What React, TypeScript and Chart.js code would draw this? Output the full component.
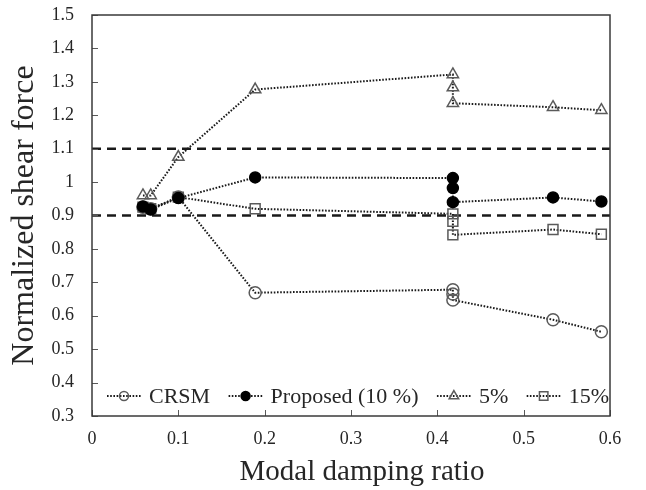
import React, { useEffect, useRef } from 'react';
import { Chart, registerables } from 'chart.js';

Chart.register(...registerables);

// ---- data ----
const dampingRatio = [0.059, 0.068, 0.1, 0.189, 0.418, 0.418, 0.418, 0.534, 0.59];
const crsm = [0.925, 0.92, 0.955, 0.669, 0.678, 0.665, 0.647, 0.588, 0.552];
const proposed10 = [0.927, 0.918, 0.952, 1.014, 1.012, 0.982, 0.94, 0.954, 0.942];
const damping5 = [0.96, 0.96, 1.075, 1.277, 1.322, 1.283, 1.236, 1.224, 1.215];
const damping15 = [0.925, 0.92, 0.955, 0.92, 0.905, 0.883, 0.842, 0.858, 0.844];
const thresholds = [1.1, 0.9];
const seriesNames = ['CRSM', 'Proposed (10 %)', '5%', '15%'];
const xTickValues = [0, 0.1, 0.2, 0.3, 0.4, 0.5, 0.6];
const xTickLabels = ['0', '0.1', '0.2', '0.3', '0.4', '0.5', '0.6'];
const yTickValues = [0.3, 0.4, 0.5, 0.6, 0.7, 0.8, 0.9, 1.0, 1.1, 1.2, 1.3, 1.4, 1.5];
const yTickLabels = ['0.3', '0.4', '0.5', '0.6', '0.7', '0.8', '0.9', '1', '1.1', '1.2', '1.3', '1.4', '1.5'];
const xTitle = 'Modal damping ratio';
const yTitle = 'Normalized shear force';

const FONT = '"Liberation Serif", "Times New Roman", serif';
const LINE = '#1a1a1a';
const MARK = '#5a5a5a';
const TEXT = '#262626';

type MarkerDef = { style: string; radius: number; fill: string; stroke: string; legendRadius: number };
const markers: MarkerDef[] = [
  { style: 'circle', radius: 6, fill: 'rgba(0,0,0,0)', stroke: MARK, legendRadius: 4.5 },
  { style: 'circle', radius: 5.5, fill: '#000000', stroke: '#000000', legendRadius: 4.5 },
  { style: 'triangle', radius: 6.5, fill: 'rgba(0,0,0,0)', stroke: MARK, legendRadius: 5.5 },
  { style: 'rect', radius: 7, fill: 'rgba(0,0,0,0)', stroke: MARK, legendRadius: 6 },
];

function drawMarker(ctx: CanvasRenderingContext2D, m: MarkerDef, x: number, y: number, r: number) {
  ctx.save();
  ctx.setLineDash([]);
  ctx.lineWidth = 1.5;
  ctx.strokeStyle = m.stroke;
  ctx.fillStyle = m.fill;
  ctx.beginPath();
  if (m.style === 'circle') {
    ctx.arc(x, y, r, 0, Math.PI * 2);
  } else if (m.style === 'triangle') {
    const a = -Math.PI / 2;
    for (let k = 0; k < 3; k++) {
      const ang = a + (k * 2 * Math.PI) / 3;
      const px = x + Math.cos(ang) * r;
      const py = y + Math.sin(ang) * r;
      if (k === 0) ctx.moveTo(px, py);
      else ctx.lineTo(px, py);
    }
    ctx.closePath();
  } else {
    const s = r * Math.SQRT1_2;
    ctx.rect(x - s, y - s, 2 * s, 2 * s);
  }
  ctx.fill();
  ctx.stroke();
  ctx.restore();
}

const frameAndTicks = {
  id: 'frameAndTicks',
  afterDatasetsDraw(chart: any) {
    const { ctx, chartArea } = chart;
    const xs = chart.scales.x;
    const ys = chart.scales.y;
    ctx.save();
    ctx.setLineDash([]);
    ctx.strokeStyle = '#595959';
    ctx.lineWidth = 1;
    const tl = 6;
    xTickValues.forEach((v) => {
      const px = Math.round(xs.getPixelForValue(v)) + 0.5;
      ctx.beginPath();
      ctx.moveTo(px, chartArea.bottom);
      ctx.lineTo(px, chartArea.bottom - tl);
      ctx.stroke();
    });
    yTickValues.forEach((v) => {
      const py = Math.round(ys.getPixelForValue(v)) + 0.5;
      ctx.beginPath();
      ctx.moveTo(chartArea.left, py);
      ctx.lineTo(chartArea.left + tl, py);
      ctx.stroke();
    });
    ctx.strokeStyle = '#3a3a3a';
    ctx.lineWidth = 1.5;
    ctx.strokeRect(chartArea.left, chartArea.top, chartArea.right - chartArea.left, chartArea.bottom - chartArea.top);
    ctx.restore();
  },
};

// x-axis title (drawn slightly right of the plot centre, as in the source figure)
const xAxisTitle = {
  id: 'xAxisTitle',
  afterDraw(chart: any) {
    const ctx: CanvasRenderingContext2D = chart.ctx;
    const area = chart.chartArea;
    ctx.save();
    ctx.font = `29px ${FONT}`;
    ctx.fillStyle = TEXT;
    ctx.textAlign = 'center';
    ctx.textBaseline = 'middle';
    ctx.fillText(xTitle, (area.left + area.right) / 2 + 11, chart.height - 18);
    ctx.restore();
  },
};

const insideLegend = {
  id: 'insideLegend',
  afterDraw(chart: any) {
    const ctx: CanvasRenderingContext2D = chart.ctx;
    const area = chart.chartArea;
    ctx.save();
    ctx.font = `22px ${FONT}`;
    const y = area.bottom - 20;
    const startX = area.left + 15;
    const endX = area.right - 1;
    const sampleW = 34;
    const textGap = 8;
    const widths = seriesNames.map((n) => ctx.measureText(n).width);
    const total = widths.reduce((a, b) => a + b, 0) + seriesNames.length * (sampleW + textGap);
    const spacing = (endX - startX - total) / (seriesNames.length - 1);
    let x = startX;
    seriesNames.forEach((name, i) => {
      ctx.setLineDash([1.6, 1.6]);
      ctx.lineWidth = 2;
      ctx.strokeStyle = LINE;
      ctx.beginPath();
      ctx.moveTo(x, y);
      ctx.lineTo(x + sampleW, y);
      ctx.stroke();
      ctx.setLineDash([]);
      drawMarker(ctx, markers[i], x + sampleW / 2, y, markers[i].legendRadius);
      ctx.fillStyle = TEXT;
      ctx.textBaseline = 'middle';
      ctx.textAlign = 'left';
      ctx.fillText(name, x + sampleW + textGap, y + 1);
      x += sampleW + textGap + widths[i] + spacing;
    });
    ctx.restore();
  },
};

export default function App() {
  const canvasRef = useRef<HTMLCanvasElement | null>(null);

  useEffect(() => {
    if (!canvasRef.current) return;
    const seriesValues = [crsm, proposed10, damping5, damping15];
    const seriesDatasets = seriesValues.map((vals, i) => ({
      label: seriesNames[i],
      data: vals.map((v, k) => ({ x: dampingRatio[k], y: v })),
      borderColor: LINE,
      borderWidth: 2,
      borderDash: [1.6, 1.6],
      borderCapStyle: 'butt' as const,
      fill: false,
      tension: 0,
      pointStyle: markers[i].style,
      pointRadius: markers[i].radius,
      pointHoverRadius: markers[i].radius,
      pointBackgroundColor: markers[i].fill,
      pointBorderColor: markers[i].stroke,
      pointBorderWidth: 1.5,
      order: i === 1 ? 0 : 1,
    }));
    const thresholdDatasets = thresholds.map((t) => ({
      label: `limit ${t}`,
      data: [
        { x: xTickValues[0], y: t },
        { x: xTickValues[xTickValues.length - 1], y: t },
      ],
      borderColor: '#1a1a1a',
      borderWidth: 2.5,
      borderDash: [9, 6],
      pointRadius: 0,
      fill: false,
      order: 2,
    }));

    const chart = new Chart(canvasRef.current, {
      type: 'line',
      data: { datasets: [...seriesDatasets, ...thresholdDatasets] as any },
      options: {
        responsive: false,
        animation: false,
        devicePixelRatio: 1,
        layout: { padding: { top: 15, right: 36, left: 0, bottom: 0 } },
        plugins: {
          legend: { display: false },
          tooltip: { enabled: false },
        },
        scales: {
          x: {
            type: 'linear',
            min: 0,
            max: 0.6,
            grid: { display: false, drawTicks: false },
            border: { display: false },
            afterBuildTicks: (s: any) => {
              s.ticks = xTickValues.map((v) => ({ value: v }));
            },
            afterFit: (s: any) => {
              s.height = 74;
              s.paddingLeft = 0;
              s.paddingRight = 0;
            },
            ticks: {
              padding: 12,
              color: TEXT,
              font: { family: FONT, size: 18 },
              maxRotation: 0,
              callback: (_v: any, idx: number) => xTickLabels[idx],
            },
            title: { display: false },
          },
          y: {
            type: 'linear',
            min: 0.3,
            max: 1.5,
            grid: { display: false, drawTicks: false },
            border: { display: false },
            afterBuildTicks: (s: any) => {
              s.ticks = yTickValues.map((v) => ({ value: v }));
            },
            afterFit: (s: any) => {
              s.width = 92;
              s.paddingTop = 0;
              s.paddingBottom = 0;
            },
            ticks: {
              padding: 18,
              color: TEXT,
              font: { family: FONT, size: 18 },
              callback: (_v: any, idx: number) => yTickLabels[idx],
            },
            title: {
              display: true,
              text: yTitle,
              color: TEXT,
              font: { family: FONT, size: 32 },
              padding: { top: 5, bottom: 0 },
            },
          },
        },
      },
      plugins: [frameAndTicks, xAxisTitle, insideLegend],
    });
    return () => chart.destroy();
  }, []);

  return (
    <div style={{ position: 'absolute', left: 0, top: 0, width: 646, height: 490, background: '#ffffff' }}>
      <canvas ref={canvasRef} width={646} height={490} style={{ width: 646, height: 490 }} />
    </div>
  );
}
